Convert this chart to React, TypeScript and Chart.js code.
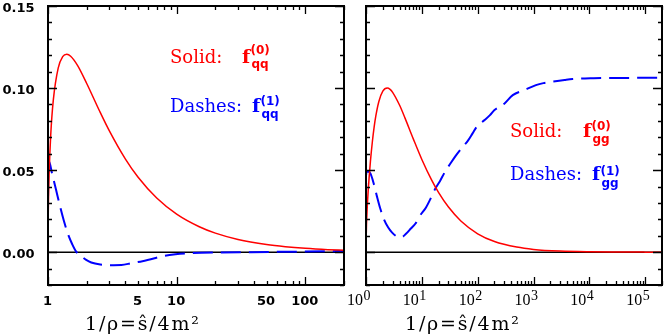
import React, { useEffect, useRef } from 'react';
import { Chart, registerables } from 'chart.js';

Chart.register(...registerables);

// ---------- data ----------
// Left panel: q qbar channel, x = 1/rho
const qqSolidX = [1.001, 1.005, 1.01, 1.02, 1.05, 1.1, 1.2, 1.3, 1.4, 1.5, 1.7, 2, 2.5, 3, 4, 5, 7, 10, 15, 20, 30, 50, 70, 100, 150, 200];
const qqSolidY = [0.011, 0.0245, 0.0343, 0.0476, 0.0714, 0.0928, 0.1122, 0.1191, 0.1206, 0.1194, 0.1137, 0.1028, 0.0865, 0.0739, 0.0567, 0.0458, 0.033, 0.0232, 0.0155, 0.0116, 0.00775, 0.00465, 0.00332, 0.00233, 0.00155, 0.00116];

const qqDashX = [1.001, 1.004, 1.015, 1.075, 1.155, 1.24, 1.33, 1.43, 1.54, 1.65, 1.81, 1.98, 2.17, 2.55, 3.05, 3.72, 4.45, 5.42, 6.74, 7.66, 9.8, 13.1, 22, 38, 100, 200];
const qqDashY = [0.034, 0.05, 0.0555, 0.048, 0.038, 0.028, 0.019, 0.011, 0.005, 0.0005, -0.0024, -0.0047, -0.0063, -0.0075, -0.0079, -0.0078, -0.0067, -0.0055, -0.0037, -0.0025, -0.0013, -0.0006, -0.0002, 0.0, 0.0004, 0.0007];

// Right panel: g g channel
const ggSolidX = [1.001, 1.02, 1.05, 1.1, 1.2, 1.3, 1.4, 1.5, 1.7, 2, 2.4, 2.7, 3, 4, 5, 7, 10, 15, 20, 30, 50, 100, 200, 500, 1000, 3000, 10000, 30000, 100000, 200000];
const ggSolidY = [0.0036, 0.0165, 0.0266, 0.0385, 0.0553, 0.0673, 0.0763, 0.083, 0.0918, 0.0981, 0.1, 0.0992, 0.0974, 0.0895, 0.0817, 0.0692, 0.0565, 0.0439, 0.0363, 0.0275, 0.019, 0.0112, 0.0065, 0.0031, 0.0017, 0.00067, 0.00023, 0.00009, 0.00003, 0.00002];

const ggDashX = [1.001, 1.005, 1.02, 1.1, 1.2, 1.37, 1.57, 1.8, 2.1, 2.5, 2.91, 3.6, 4.3, 5.2, 6.35, 7.7, 9.3, 11.8, 13.9, 17.2, 21.2, 26, 31.6, 40.3, 51, 67, 81, 96, 133, 166, 200, 300, 425, 695, 1105, 1500, 3600, 5000, 12000, 50000, 200000];
const ggDashY = [0.03, 0.044, 0.049, 0.049, 0.048, 0.042, 0.034, 0.0266, 0.02, 0.015, 0.0121, 0.0095, 0.0091, 0.0112, 0.0144, 0.0175, 0.0223, 0.0271, 0.0317, 0.0384, 0.0434, 0.049, 0.0534, 0.0587, 0.0632, 0.068, 0.0724, 0.0764, 0.0805, 0.0835, 0.0866, 0.0905, 0.0957, 0.0988, 0.1018, 0.103, 0.1049, 0.1055, 0.106, 0.1062, 0.1063];

// axes
const yMin = -0.02;
const yMax = 0.15;
const yTickValues = [0, 0.05, 0.1, 0.15];
const yTickLabels = ['0.00', '0.05', '0.10', '0.15'];
const leftXMin = 1;
const leftXMax = 200;
const leftXTickValues = [1, 5, 10, 50, 100];
const leftXTickLabels = ['1', '5', '10', '50', '100'];
const rightXMin = 1;
const rightXMax = 200000;
const rightXTickExponents = ['0', '1', '2', '3', '4', '5'];
const axisTitle = '1/\u03C1=\u015D/4m\u00B2';

const W = 664;
const H = 336;

const pts = (xs: number[], ys: number[]) => xs.map((x, i) => ({ x, y: ys[i] }));

function drawTicks(ctx: CanvasRenderingContext2D, xs: any, ys: any, a: any, xMax: number) {
  ctx.save();
  ctx.strokeStyle = '#000';
  ctx.lineWidth = 1.3;
  ctx.beginPath();
  for (let i = -2; i <= 15; i++) {
    const v = i / 100;
    const py = Math.round(ys.getPixelForValue(v)) + 0.5;
    const len = i % 5 === 0 ? 9 : 4;
    ctx.moveTo(a.left, py);
    ctx.lineTo(a.left + len, py);
    ctx.moveTo(a.right, py);
    ctx.lineTo(a.right - len, py);
  }
  for (let d = 1; d <= xMax; d *= 10) {
    for (let m = 1; m <= 9; m++) {
      const v = m * d;
      if (v > xMax * 1.0001) break;
      const px = Math.round(xs.getPixelForValue(v)) + 0.5;
      const len = m === 1 ? 8 : 4;
      ctx.moveTo(px, a.bottom);
      ctx.lineTo(px, a.bottom - len);
      ctx.moveTo(px, a.top);
      ctx.lineTo(px, a.top + len);
    }
  }
  ctx.stroke();
  ctx.lineWidth = 2;
  ctx.strokeRect(a.left, a.top, a.right - a.left, a.bottom - a.top);
  ctx.restore();
}

function drawLabel(ctx: CanvasRenderingContext2D, color: string, x0: number, y0: number, word: string, fx: number, sup: string, sub: string, supY: number, subY: number) {
  ctx.fillStyle = color;
  ctx.textAlign = 'left';
  ctx.textBaseline = 'alphabetic';
  ctx.font = '18px "DejaVu Serif"';
  ctx.fillText(word, x0, y0);
  ctx.font = 'bold 19px "DejaVu Serif"';
  ctx.fillText('f', fx, y0);
  ctx.font = 'bold 12px "DejaVu Sans"';
  ctx.fillText(sup, fx + 8.5, supY);
  ctx.fillText(sub, fx + 9.5, subY);
}

function drawTitle(ctx: CanvasRenderingContext2D, x: number) {
  ctx.save();
  ctx.fillStyle = '#000';
  ctx.textAlign = 'left';
  ctx.textBaseline = 'alphabetic';
  ctx.font = '19px "DejaVu Serif"';
  try { (ctx as any).letterSpacing = '1.8px'; } catch (e) {}
  ctx.fillText(axisTitle, x, 330);
  ctx.restore();
}

const leftPlugin = {
  id: 'leftDecor',
  afterDraw(chart: any) {
    const { ctx, chartArea: a, scales } = chart;
    const xs = scales.x, ys = scales.y;
    drawTicks(ctx, xs, ys, a, leftXMax);
    ctx.save();
    ctx.fillStyle = '#000';
    ctx.font = 'bold 13px "DejaVu Sans"';
    ctx.textBaseline = 'alphabetic';
    ctx.textAlign = 'right';
    yTickValues.forEach((v, i) => {
      ctx.fillText(yTickLabels[i], 34.5, ys.getPixelForValue(v) + 5.5);
    });
    ctx.textAlign = 'center';
    leftXTickValues.forEach((v, i) => {
      ctx.fillText(leftXTickLabels[i], xs.getPixelForValue(v) - 0.5, 305);
    });
    drawTitle(ctx, 85);
    drawLabel(ctx, 'red', 170, 63, 'Solid:', 242, '(0)', 'qq', 53.5, 67.5);
    drawLabel(ctx, 'blue', 170, 112, 'Dashes:', 252, '(1)', 'qq', 105, 117.5);
    ctx.restore();
  },
};

const RIGHT_OFF = 346;

const rightPlugin = {
  id: 'rightDecor',
  afterDraw(chart: any) {
    const { ctx, chartArea: a, scales } = chart;
    const xs = scales.x, ys = scales.y;
    drawTicks(ctx, xs, ys, a, rightXMax);
    ctx.save();
    ctx.fillStyle = '#000';
    ctx.textBaseline = 'alphabetic';
    rightXTickExponents.forEach((e) => {
      const px = xs.getPixelForValue(Math.pow(10, Number(e)));
      ctx.font = '16px "Liberation Serif"';
      ctx.textAlign = 'right';
      ctx.fillText('10', px - 3, 305);
      ctx.font = '14px "Liberation Serif"';
      ctx.textAlign = 'left';
      ctx.fillText(e, px - 2.5, 299.5);
    });
    ctx.translate(-RIGHT_OFF, 0);
    drawTitle(ctx, 405);
    drawLabel(ctx, 'red', 510, 137, 'Solid:', 583, '(0)', 'gg', 130, 142.5);
    drawLabel(ctx, 'blue', 510, 180, 'Dashes:', 592, '(1)', 'gg', 175, 186.5);
    ctx.restore();
  },
};

function makeConfig(opts: {
  solid: { x: number; y: number }[];
  dash: { x: number; y: number }[];
  xMin: number;
  xMax: number;
  yAxisWidth: number;
  plugin: any;
}) {
  return {
    type: 'line' as const,
    data: {
      datasets: [
        {
          data: opts.solid,
          borderColor: '#ff0000',
          borderWidth: 1.5,
          pointRadius: 0,
          fill: false,
          cubicInterpolationMode: 'monotone' as const,
        },
        {
          data: opts.dash,
          borderColor: '#0000ff',
          borderWidth: 2,
          borderDash: [20, 8],
          pointRadius: 0,
          fill: false,
          cubicInterpolationMode: 'monotone' as const,
        },
        {
          data: [
            { x: opts.xMin, y: 0 },
            { x: opts.xMax, y: 0 },
          ],
          borderColor: '#000000',
          borderWidth: 1.5,
          pointRadius: 0,
          fill: false,
        },
      ],
    },
    options: {
      animation: false,
      responsive: false,
      maintainAspectRatio: false,
      events: [],
      layout: { padding: { top: 6, right: 2, left: 0, bottom: 0 } },
      plugins: { legend: { display: false }, tooltip: { enabled: false }, title: { display: false } },
      scales: {
        x: {
          type: 'logarithmic',
          min: opts.xMin,
          max: opts.xMax,
          ticks: { display: false },
          grid: { display: false },
          border: { display: false },
          afterFit: (s: any) => {
            s.height = 51;
          },
        },
        y: {
          type: 'linear',
          min: yMin,
          max: yMax,
          ticks: { display: false },
          grid: { display: false },
          border: { display: false },
          afterFit: (s: any) => {
            s.width = opts.yAxisWidth;
          },
        },
      },
    },
    plugins: [opts.plugin],
  };
}

function Panel({ left, width, config }: { left: number; width: number; config: () => any }) {
  const ref = useRef<HTMLCanvasElement>(null);
  useEffect(() => {
    const chart = new Chart(ref.current as HTMLCanvasElement, config());
    return () => chart.destroy();
  }, []);
  return (
    <canvas
      ref={ref}
      width={width}
      height={H}
      style={{ position: 'absolute', left, top: 0, width, height: H, display: 'block' }}
    />
  );
}

export default function App() {
  return (
    <div style={{ position: 'absolute', left: 0, top: 0, width: W, height: H, background: '#ffffff', overflow: 'hidden' }}>
      <Panel
        left={0}
        width={RIGHT_OFF}
        config={() =>
          makeConfig({
            solid: pts(qqSolidX, qqSolidY),
            dash: pts(qqDashX, qqDashY),
            xMin: leftXMin,
            xMax: leftXMax,
            yAxisWidth: 48,
            plugin: leftPlugin,
          })
        }
      />
      <Panel
        left={RIGHT_OFF}
        width={W - RIGHT_OFF}
        config={() =>
          makeConfig({
            solid: pts(ggSolidX, ggSolidY),
            dash: pts(ggDashX, ggDashY),
            xMin: rightXMin,
            xMax: rightXMax,
            yAxisWidth: 20,
            plugin: rightPlugin,
          })
        }
      />
    </div>
  );
}
